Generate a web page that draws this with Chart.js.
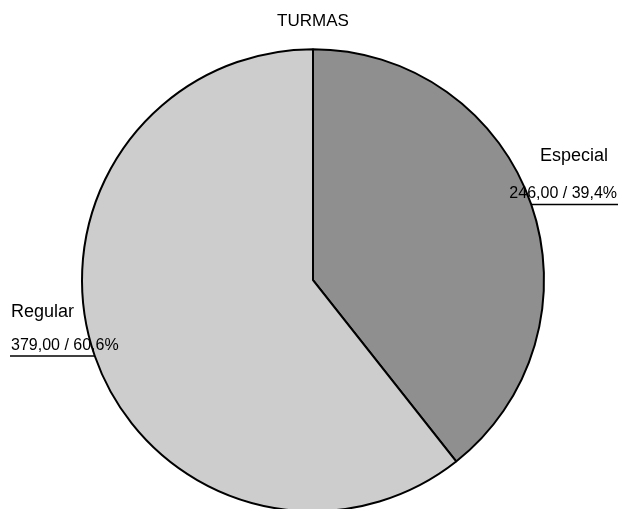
<!DOCTYPE html>
<html>
<head>
<meta charset="utf-8">
<script src="https://cdn.jsdelivr.net/npm/chart.js@4/dist/chart.umd.min.js"></script>
<style>
  html, body { margin: 0; padding: 0; background: #fff; overflow: hidden; }
  #wrap { position: relative; width: 618px; height: 560px; }
</style>
</head>
<body>
<div id="wrap"><canvas id="c"></canvas></div>
<script>
const chartTitle = "TURMAS";
const categories = ["Especial", "Regular"];
const values = [246, 379];
const sliceColors = ["#8f8f8f", "#cdcdcd"];

const total = values.reduce((a, b) => a + b, 0);
const fmt = (v, d) => v.toFixed(d).replace('.', ',');

const labelPlugin = {
  id: 'outLabels',
  afterDatasetsDraw(chart) {
    const ctx = chart.ctx;
    const meta = chart.getDatasetMeta(0);
    ctx.save();
    meta.data.forEach((arc, i) => {
      const p = arc.getProps(['x', 'y', 'startAngle', 'endAngle', 'outerRadius'], true);
      const mid = (p.startAngle + p.endAngle) / 2;
      const ex = p.x + Math.cos(mid) * p.outerRadius;
      const ey = p.y + Math.sin(mid) * p.outerRadius;
      const right = Math.cos(mid) >= 0;
      const endX = right ? chart.width : 10;
      ctx.strokeStyle = '#000';
      ctx.lineWidth = 1.5;
      ctx.beginPath();
      ctx.moveTo(ex, ey);
      ctx.lineTo(endX, ey);
      ctx.stroke();
      const valTxt = fmt(values[i], 2) + ' / ' + fmt(values[i] / total * 100, 1) + '%';
      ctx.fillStyle = '#000';
      ctx.textBaseline = 'alphabetic';
      if (right) {
        ctx.textAlign = 'right';
        ctx.font = '16px "Liberation Sans", Arial, sans-serif';
        ctx.fillText(valTxt, chart.width - 1, ey - 6);
        ctx.font = '18px "Liberation Sans", Arial, sans-serif';
        ctx.fillText(categories[i], chart.width - 10, ey - 43);
      } else {
        ctx.textAlign = 'left';
        ctx.font = '16px "Liberation Sans", Arial, sans-serif';
        ctx.fillText(valTxt, 11, ey - 6);
        ctx.font = '18px "Liberation Sans", Arial, sans-serif';
        ctx.fillText(categories[i], 11, ey - 39);
      }
    });
    ctx.restore();
  }
};

new Chart(document.getElementById('c'), {
  type: 'pie',
  data: {
    labels: categories,
    datasets: [{
      data: values,
      backgroundColor: sliceColors,
      borderColor: '#000',
      borderWidth: 2
    }]
  },
  options: {
    responsive: true,
    maintainAspectRatio: false,
    animation: false,
    radius: 231,
    layout: { padding: { left: 8, right: 0, top: 0, bottom: 49 } },
    plugins: {
      legend: { display: false },
      tooltip: { enabled: false },
      title: {
        display: true,
        text: chartTitle,
        color: '#000',
        font: { family: '"Liberation Sans", Arial, sans-serif', size: 17, weight: 'normal' },
        padding: { top: 11, bottom: 18 }
      }
    }
  },
  plugins: [labelPlugin]
});
</script>
</body>
</html>
